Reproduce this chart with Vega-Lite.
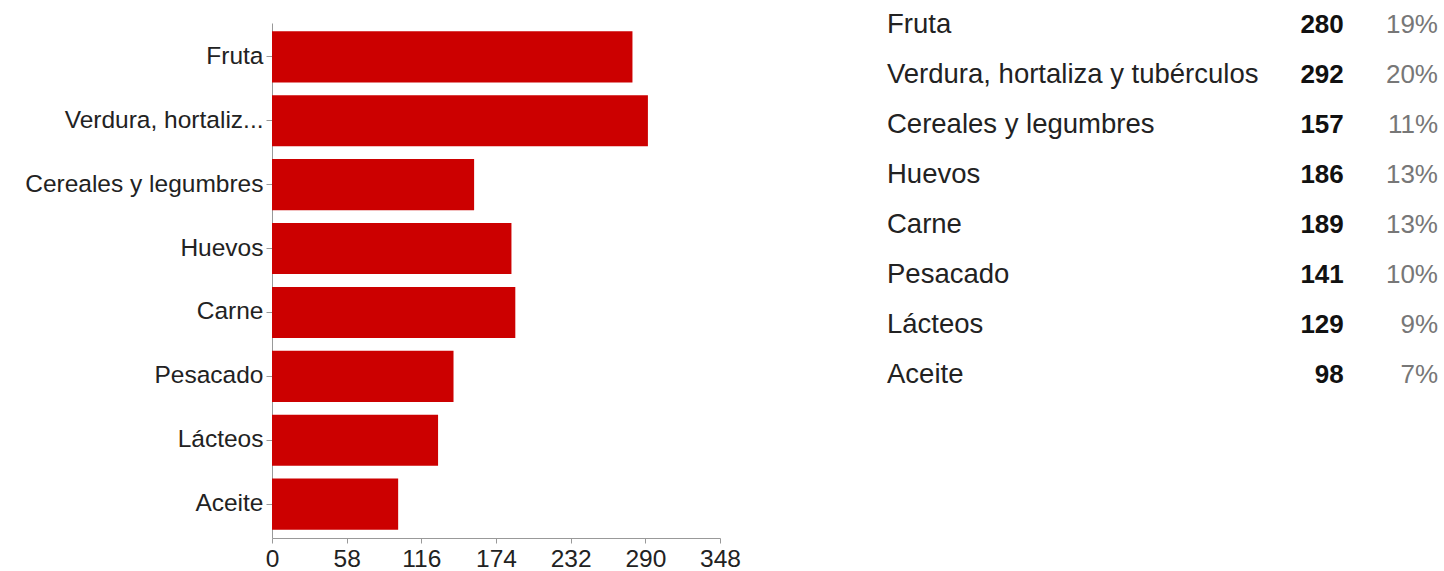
{
  "$schema": "https://vega.github.io/schema/vega-lite/v6.json",
  "padding": {"left": 24, "top": 0, "right": 5, "bottom": 0},
  "background": "white",
  "bounds": "flush",
  "spacing": 167,
  "config": {"view": {"stroke": null}, "font": "Liberation Sans"},
  "data": {
    "values": [
      {"cat": "Fruta", "count": 280, "pct": "19%"},
      {"cat": "Verdura, hortaliza y tubérculos", "count": 292, "pct": "20%"},
      {"cat": "Cereales y legumbres", "count": 157, "pct": "11%"},
      {"cat": "Huevos", "count": 186, "pct": "13%"},
      {"cat": "Carne", "count": 189, "pct": "13%"},
      {"cat": "Pesacado", "count": 141, "pct": "10%"},
      {"cat": "Lácteos", "count": 129, "pct": "9%"},
      {"cat": "Aceite", "count": 98, "pct": "7%"}
    ]
  },
  "hconcat": [
    {
      "width": 448,
      "height": 538,
      "mark": {"type": "bar", "color": "#cc0000"},
      "encoding": {
        "y": {
          "field": "cat",
          "type": "nominal",
          "sort": null,
          "title": null,
          "scale": {"range": [23, 538], "paddingInner": 0.2, "paddingOuter": 0.13},
          "axis": {
            "labelExpr": "length(datum.label) > 20 ? substring(datum.label, 0, 17) + '...' : datum.label",
            "labelFontSize": 24.5,
            "labelColor": "#222222",
            "labelLimit": 0,
            "labelPadding": 3,
            "tickSize": 6,
            "tickColor": "#999999",
            "domainColor": "#999999",
            "grid": false
          }
        },
        "x": {
          "field": "count",
          "type": "quantitative",
          "title": null,
          "scale": {"domain": [0, 348], "nice": false},
          "axis": {
            "values": [0, 58, 116, 174, 232, 290, 348],
            "labelFontSize": 24.5,
            "labelColor": "#222222",
            "labelFlush": false,
            "labelOverlap": false,
            "labelPadding": 4,
            "tickSize": 5,
            "tickColor": "#999999",
            "domainColor": "#999999",
            "grid": false
          }
        }
      }
    },
    {
      "width": 551,
      "height": 400,
      "encoding": {
        "y": {
          "field": "cat",
          "type": "nominal",
          "sort": null,
          "axis": null,
          "scale": {"range": [0, 400], "paddingInner": 0, "paddingOuter": 0}
        }
      },
      "layer": [
        {
          "mark": {"type": "text", "align": "left", "baseline": "middle", "fontSize": 27.5, "color": "#222222"},
          "encoding": {
            "x": {"datum": 0, "type": "quantitative", "scale": {"domain": [0, 100], "nice": false, "zero": false}, "axis": null},
            "text": {"field": "cat"}
          }
        },
        {
          "mark": {"type": "text", "align": "right", "baseline": "middle", "fontSize": 26, "fontWeight": "bold", "color": "#111111"},
          "encoding": {
            "x": {"datum": 82.9, "type": "quantitative"},
            "text": {"field": "count"}
          }
        },
        {
          "mark": {"type": "text", "align": "right", "baseline": "middle", "fontSize": 26, "color": "#777777"},
          "encoding": {
            "x": {"datum": 100, "type": "quantitative"},
            "text": {"field": "pct"}
          }
        }
      ]
    }
  ]
}
